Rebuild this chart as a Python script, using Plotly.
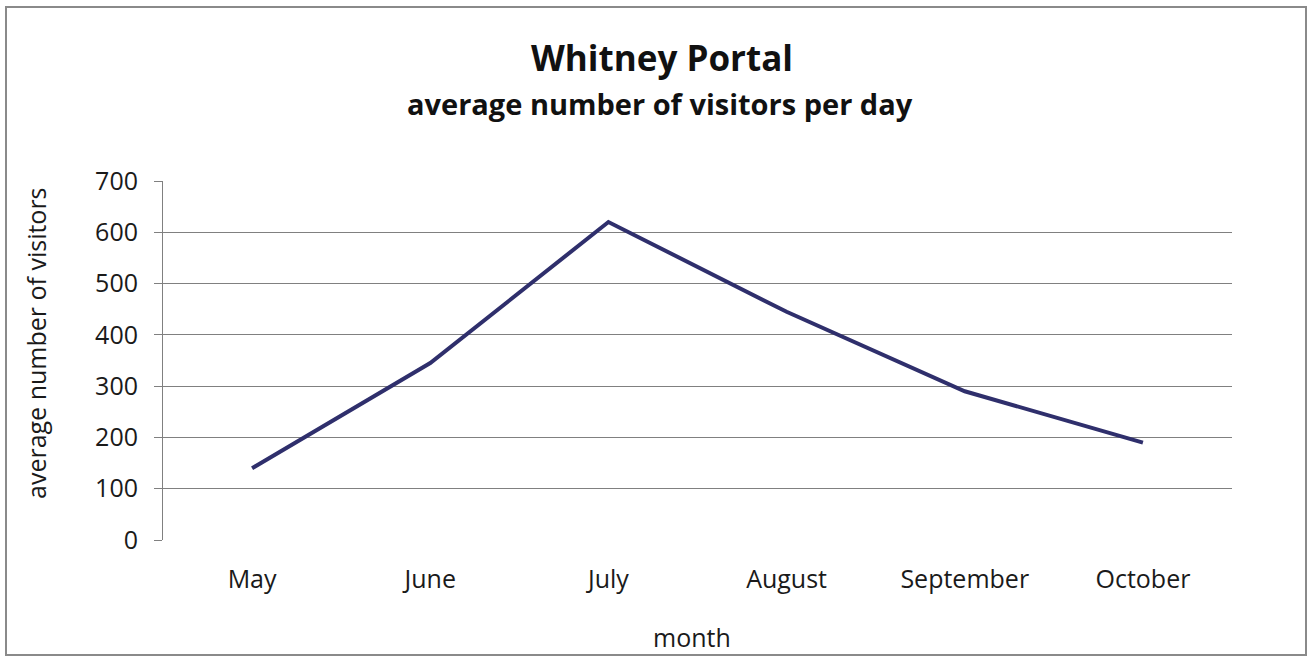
import plotly.graph_objects as go

months = ["May", "June", "July", "August", "September", "October"]
visitors = [140, 345, 620, 445, 290, 190]
y_ticks = [0, 100, 200, 300, 400, 500, 600, 700]

W, H = 1312, 658
ML, MR, MT, MB = 163, 80, 181, 118
PW = W - ML - MR
PH = H - MT - MB


def px_x(px):
    return (px - ML) / PW


def px_y(py):
    return (H - MB - py) / PH


FONT = "Open Sans, Lato, sans-serif"
AX_SIZE = 25

fig = go.Figure()
fig.add_trace(go.Scatter(
    x=months, y=visitors, mode="lines",
    line=dict(color="#2f2f6c", width=4),
    hoverinfo="x+y", showlegend=False,
))

fig.update_layout(
    width=W, height=H,
    margin=dict(l=ML, r=MR, t=MT, b=MB),
    paper_bgcolor="white", plot_bgcolor="white",
    font=dict(family=FONT, size=AX_SIZE, color="#1a1a1a"),
    xaxis=dict(
        type="category", range=[-0.5, 5.5],
        showgrid=False, showline=False, ticks="",
        ticklabelstandoff=22,
        tickfont=dict(size=AX_SIZE, color="#1a1a1a"),
    ),
    yaxis=dict(
        range=[0, 700], tickvals=y_ticks,
        showgrid=True, gridcolor="#808080", gridwidth=1,
        showline=True, linecolor="#808080", linewidth=1,
        ticks="outside", ticklen=8, tickcolor="#808080",
        ticklabelstandoff=11,
        tickfont=dict(size=AX_SIZE, color="#1a1a1a"),
        zeroline=False,
    ),
    annotations=[
        dict(text="<b>Whitney Portal</b>", xref="paper", yref="paper",
             x=px_x(662), y=px_y(57), xanchor="center", yanchor="middle",
             showarrow=False, font=dict(size=35, family=FONT, color="#111111")),
        dict(text="<b>average number of visitors per day</b>", xref="paper", yref="paper",
             x=px_x(660), y=px_y(104), xanchor="center", yanchor="middle",
             showarrow=False, font=dict(size=29, family=FONT, color="#111111")),
        dict(text="average number of visitors", xref="paper", yref="paper",
             x=px_x(36), y=px_y(343), xanchor="center", yanchor="middle",
             textangle=-90, showarrow=False,
             font=dict(size=AX_SIZE, family=FONT, color="#1a1a1a")),
        dict(text="month", xref="paper", yref="paper",
             x=px_x(692), y=px_y(637), xanchor="center", yanchor="middle",
             showarrow=False, font=dict(size=AX_SIZE, family=FONT, color="#1a1a1a")),
    ],
    shapes=[
        dict(type="rect", xref="paper", yref="paper",
             x0=px_x(6), x1=px_x(1306), y0=px_y(655), y1=px_y(7),
             line=dict(color="#8a8a8a", width=2), fillcolor="rgba(0,0,0,0)",
             layer="below"),
    ],
)

fig.write_html("out.html")
